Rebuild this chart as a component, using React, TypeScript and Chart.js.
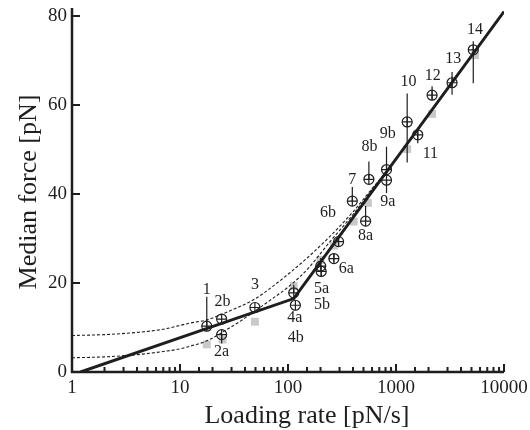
import React, { useEffect, useRef } from "react";
import { Chart, registerables } from "chart.js";

Chart.register(...registerables);

// Measured points (loading rate [pN/s], median force [pN])
const rateX = [17.7, 24.3, 24.3, 49.4, 113, 117, 201, 203, 266, 294, 394, 523, 561, 817, 817, 1269, 1590, 2158, 3304, 5194];
const forceY = [10.3, 8.4, 11.9, 14.5, 17.8, 15.0, 23.8, 22.6, 25.5, 29.3, 38.4, 33.9, 43.3, 43.1, 45.5, 56.2, 53.3, 62.2, 65.0, 72.4];
const errLow = [10.3, 6.4, 11.9, 14.5, 17.8, 15.0, 23.8, 21.4, 24.8, 28.2, 38.4, 33.9, 43.3, 40.2, 45.5, 47.1, 51.4, 61.1, 62.3, 64.9];
const errHigh = [16.9, 8.4, 11.9, 14.5, 19.6, 15.0, 25.6, 22.6, 26.7, 30.4, 41.6, 37.3, 47.3, 43.1, 50.6, 62.6, 54.4, 64.2, 67.4, 74.3];

// Point labels
const labelText = ["1", "2b", "2a", "3", "4a", "4b", "5a", "5b", "6a", "6b", "7", "8a", "8b", "9a", "9b", "10", "11", "12", "13", "14"];
const labelX = [17.7, 24.8, 24.3, 49.4, 115.6, 118, 204, 206.5, 347, 234.6, 394, 523, 569, 840, 840, 1304, 2083, 2187, 3397, 5387];
const labelY = [18.4, 15.8, 4.6, 19.6, 12.1, 7.6, 18.7, 15.1, 23.3, 35.7, 43.1, 30.6, 50.6, 38.3, 53.6, 65.2, 49.1, 66.5, 70.3, 77.0];

// Gray squares
const grayX = [17.7, 24.8, 49.4, 113, 200, 266, 405, 549, 1269, 2158, 5387];
const grayY = [6.2, 7.3, 11.3, 19.3, 25.2, 28.4, 33.8, 38.0, 50.1, 58.0, 71.2];

// Solid fit (two segments)
const fitX = [1.2, 113, 10000];
const fitY = [0, 16.5, 81.0];

// Dashed model curves
const upperX = [1, 2, 4, 7, 12.4, 17.7, 24.5, 35, 49.4, 70, 104, 150, 243, 400, 600, 900];
const upperY = [8.2, 8.4, 8.9, 9.6, 11.0, 11.7, 13.0, 14.6, 16.4, 19.0, 22.3, 25.6, 30.4, 36.0, 41.2, 46.3];
const lowerX = [1, 2, 4, 7, 10, 12.4, 17.7, 24.5, 35, 49.4, 70, 104, 150, 243, 400, 600, 900];
const lowerY = [3.2, 3.4, 3.9, 4.6, 5.2, 5.8, 7.0, 8.9, 11.2, 13.7, 16.3, 19.4, 23.0, 29.2, 35.4, 40.9, 46.2];

const xTitle = "Loading rate [pN/s]";
const yTitle = "Median force [pN]";
const yTicks = [0, 20, 40, 60, 80];

const serif = '"Liberation Serif", "Times New Roman", "DejaVu Serif", serif';
const ink = "#1e1e1e";

const isPow10 = (v: number) => {
  const e = Math.log10(v);
  return Math.abs(e - Math.round(e)) < 1e-9;
};

const zip = (xs: number[], ys: number[]) => xs.map((x, i) => ({ x, y: ys[i] }));

const decorPlugin = {
  id: "decor",
  beforeDatasetsDraw(chart: any) {
    const { ctx, chartArea, scales } = chart;
    const { left, right, top, bottom } = chartArea;
    const x = scales.x;
    const y = scales.y;
    ctx.save();
    ctx.strokeStyle = ink;
    ctx.lineWidth = 2.5;
    ctx.lineCap = "butt";
    ctx.beginPath();
    ctx.moveTo(left, top);
    ctx.lineTo(left, bottom);
    ctx.lineTo(right, bottom);
    ctx.stroke();
    ctx.lineWidth = 2;
    ctx.beginPath();
    x.ticks.forEach((t: any) => {
      const px = x.getPixelForValue(t.value);
      const len = isPow10(t.value) ? 8 : 5;
      ctx.moveTo(px, bottom);
      ctx.lineTo(px, bottom - len);
    });
    y.ticks.forEach((t: any) => {
      const py = y.getPixelForValue(t.value);
      ctx.moveTo(left, py);
      ctx.lineTo(left + 8, py);
    });
    ctx.stroke();
    ctx.restore();
  },
  afterDatasetsDraw(chart: any) {
    const { ctx, chartArea, scales } = chart;
    const x = scales.x;
    const y = scales.y;
    ctx.save();
    // error bars
    ctx.strokeStyle = ink;
    ctx.lineWidth = 1.2;
    ctx.beginPath();
    rateX.forEach((r, i) => {
      if (errHigh[i] - errLow[i] <= 0) return;
      const px = x.getPixelForValue(r);
      ctx.moveTo(px, y.getPixelForValue(errLow[i]));
      ctx.lineTo(px, y.getPixelForValue(errHigh[i]));
    });
    ctx.stroke();
    // point labels
    ctx.fillStyle = ink;
    ctx.font = `16px ${serif}`;
    ctx.textAlign = "center";
    ctx.textBaseline = "middle";
    labelText.forEach((t, i) => {
      ctx.fillText(t, x.getPixelForValue(labelX[i]), y.getPixelForValue(labelY[i]));
    });
    // axis titles
    ctx.font = `26px ${serif}`;
    ctx.textBaseline = "alphabetic";
    ctx.fillText(xTitle, (chartArea.left + chartArea.right) / 2 + 19, 423);
    ctx.translate(36, (chartArea.top + chartArea.bottom) / 2 + 2);
    ctx.rotate(-Math.PI / 2);
    ctx.fillText(yTitle, 0, 0);
    ctx.restore();
  },
};

export default function App() {
  const ref = useRef<HTMLCanvasElement | null>(null);
  useEffect(() => {
    if (!ref.current) return;
    const chart = new Chart(ref.current, {
      type: "line",
      data: {
        datasets: [
          {
            data: zip(rateX, forceY),
            showLine: false,
            pointStyle: "circle",
            pointRadius: 5,
            pointBorderWidth: 1.2,
            pointBorderColor: ink,
            pointBackgroundColor: "rgba(0,0,0,0)",
            order: 0,
          },
          {
            data: zip(rateX, forceY),
            showLine: false,
            pointStyle: "cross",
            pointRadius: 5,
            pointBorderWidth: 1.2,
            pointBorderColor: ink,
            order: 1,
          },
          {
            data: zip(fitX, fitY),
            borderColor: ink,
            borderWidth: 3,
            pointRadius: 0,
            tension: 0,
            order: 2,
          },
          {
            data: zip(upperX, upperY),
            borderColor: ink,
            borderWidth: 1.1,
            borderDash: [3, 2],
            pointRadius: 0,
            cubicInterpolationMode: "monotone",
            order: 3,
          },
          {
            data: zip(lowerX, lowerY),
            borderColor: ink,
            borderWidth: 1.1,
            borderDash: [3, 2],
            pointRadius: 0,
            cubicInterpolationMode: "monotone",
            order: 4,
          },
          {
            data: zip(grayX, grayY),
            showLine: false,
            pointStyle: "rect",
            pointRadius: 5.6,
            pointBorderWidth: 0,
            pointBackgroundColor: "#c9c9c9",
            pointBorderColor: "#c9c9c9",
            order: 5,
          },
        ],
      },
      options: {
        animation: false,
        responsive: false,
        events: [],
        layout: { padding: { top: 8, right: 26, bottom: 0, left: 0 } },
        plugins: { legend: { display: false }, tooltip: { enabled: false } },
        scales: {
          x: {
            type: "logarithmic",
            min: 1,
            max: 10000,
            grid: { display: false, drawTicks: false },
            border: { display: false },
            ticks: {
              autoSkip: false,
              maxRotation: 0,
              padding: 5,
              color: ink,
              font: { family: serif, size: 19 },
              callback: (v: any) => (isPow10(Number(v)) ? String(Math.round(Number(v))) : ""),
            },
            afterFit: (s: any) => {
              s.height = 58;
              s.paddingLeft = 0;
              s.paddingRight = 0;
            },
          },
          y: {
            type: "linear",
            min: 0,
            max: 81.8,
            grid: { display: false, drawTicks: false },
            border: { display: false },
            ticks: {
              padding: 5,
              color: ink,
              font: { family: serif, size: 19 },
            },
            afterBuildTicks: (s: any) => {
              s.ticks = yTicks.map((v) => ({ value: v }));
            },
            afterFit: (s: any) => {
              s.width = 72;
              s.paddingTop = 0;
              s.paddingBottom = 0;
            },
          },
        },
      },
      plugins: [decorPlugin],
    } as any);
    return () => chart.destroy();
  }, []);
  return (
    <div style={{ position: "fixed", left: 0, top: 0, width: 530, height: 430, background: "#fff" }}>
      <canvas ref={ref} width={530} height={430} />
    </div>
  );
}
